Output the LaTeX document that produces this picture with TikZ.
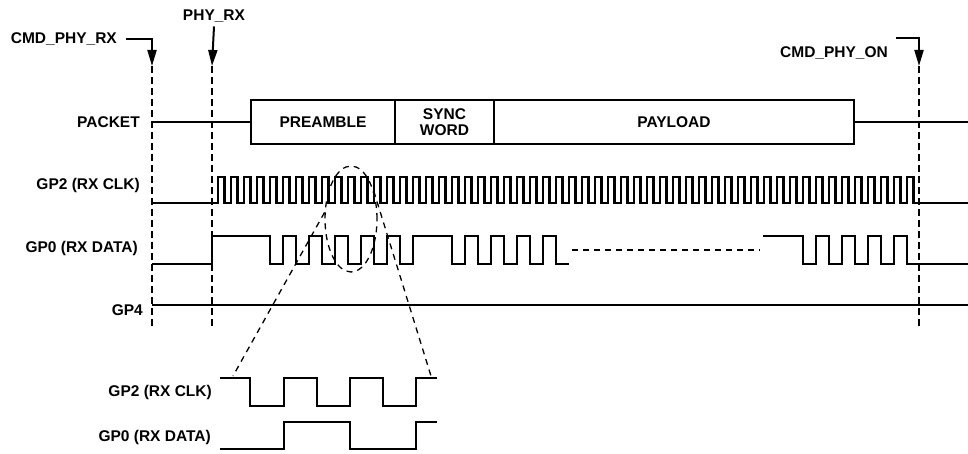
\documentclass[tikz,border=0pt]{standalone}
\usepackage{fontspec}
\setmainfont{Liberation Sans}
\usetikzlibrary{arrows.meta,positioning,shapes.geometric}

\begin{document}
\begin{tikzpicture}[
  x=1pt,y=-1pt,
  lbl/.style={font=\fontsize{15.5}{16}\selectfont\bfseries,inner sep=4pt},
  field/.style={draw,line width=1.6pt,minimum height=44pt,inner sep=0pt,outer sep=0pt,align=center,font=\fontsize{15.5}{16}\selectfont\bfseries},
  sig/.style={line width=2.2pt,line join=miter},
  marker/.style={line width=2pt,dash pattern=on 7pt off 4pt},
  funnel/.style={line width=1.3pt,dash pattern=on 6pt off 5pt},
  arr/.style={-{Triangle[length=16pt,width=9pt]},line width=2pt},
]
  \useasboundingbox (0,0) rectangle (968,454);

  % event markers
  \foreach \x/\n in {152/cmdrx,212/phyrx,919/cmdon}{
    \coordinate (\n) at (\x,66);
    \draw[marker] (\n) -- (\x,328);
  }
  \node[lbl,anchor=east] (cmdrxlbl) at (121,39) {CMD\_PHY\_RX};
  \node[lbl] (phyrxlbl) at (214,16) {PHY\_RX};
  \node[lbl,anchor=east] (cmdonlbl) at (892,53) {CMD\_PHY\_ON};
  \draw[arr,shorten <=5pt] (cmdrxlbl.east) -| (cmdrx);
  \draw[arr] (phyrxlbl.south) -- (phyrx);
  \draw[arr] ([xshift=4pt,yshift=4pt]cmdonlbl.north east) -| (cmdon);

  % packet
  \node[lbl,anchor=east] (pktlbl) at (144,122) {PACKET};
  \node[field,minimum width=144pt,anchor=west] (pre) at (251,122) {PREAMBLE};
  \node[field,minimum width=99pt,right=0pt of pre] (sync) {SYNC\\WORD};
  \node[field,minimum width=360pt,right=0pt of sync] (pay) {PAYLOAD};
  \draw[sig] (cmdrx |- pre.west) -- (pre.west);
  \draw[sig] (pay.east) -- ++(114,0);

  % GP2 clock
  \node[lbl,anchor=east] (clklbl) at (144,185) {GP2 (RX CLK)};
  \draw[sig] (152,203) -- (218,203)
    \foreach \k in {0,...,53}{ -- ++(0,-26) -- ++(6.5,0) -- ++(0,26) -- ++(6.5,0) } -- (968,203);

  % GP0 data
  \node[lbl,anchor=east] (datlbl) at (142,248) {GP0 (RX DATA)};
  \draw[sig] (152,264) -- (212,264) |- (270,236) |- (283,264) |- (296,236) |- (309,264)
    |- (322,236) |- (335,264) |- (348,236) |- (361,264) |- (374,236) |- (387,264)
    |- (400,236) |- (413,264) |- (452,236) |- (465,264) |- (478,236) |- (491,264)
    |- (504,236) |- (517,264) |- (530,236) |- (543,264) |- (556,236) |- (569,264);
  \draw[funnel] (572,250) -- (760,250);
  \draw[sig] (763,236) -- (803,236) |- (816,264) |- (829,236) |- (842,264) |- (855,236)
    |- (868,264) |- (881,236) |- (894,264) |- (907,236) |- (968,264);

  % GP4
  \node[lbl,anchor=east] (gp4lbl) at (147,310) {GP4};
  \draw[sig] (152,305) -- (968,305);

  % zoomed view
  \node[draw,funnel,ellipse,minimum width=52pt,minimum height=106pt,inner sep=0pt] (ring) at (351,219) {};
  \coordinate (zl) at (233,376);
  \coordinate (zr) at (431,376);
  \draw[funnel] (ring.166) -- (zl);
  \draw[funnel] (ring.51) -- (zr);
  \node[lbl,anchor=east] (zclklbl) at (216,392) {GP2 (RX CLK)};
  \node[lbl,anchor=east] (zdatlbl) at (215,437) {GP0 (RX DATA)};
  \draw[sig] (220,378) -- (250,378) |- (284,406) |- (317,378) |- (350,406) |- (383,378)
    |- (416,406) |- (437,378);
  \draw[sig] (220,449) -- (284,449) |- (350,422) |- (416,449) |- (437,422);
\end{tikzpicture}
\end{document}
